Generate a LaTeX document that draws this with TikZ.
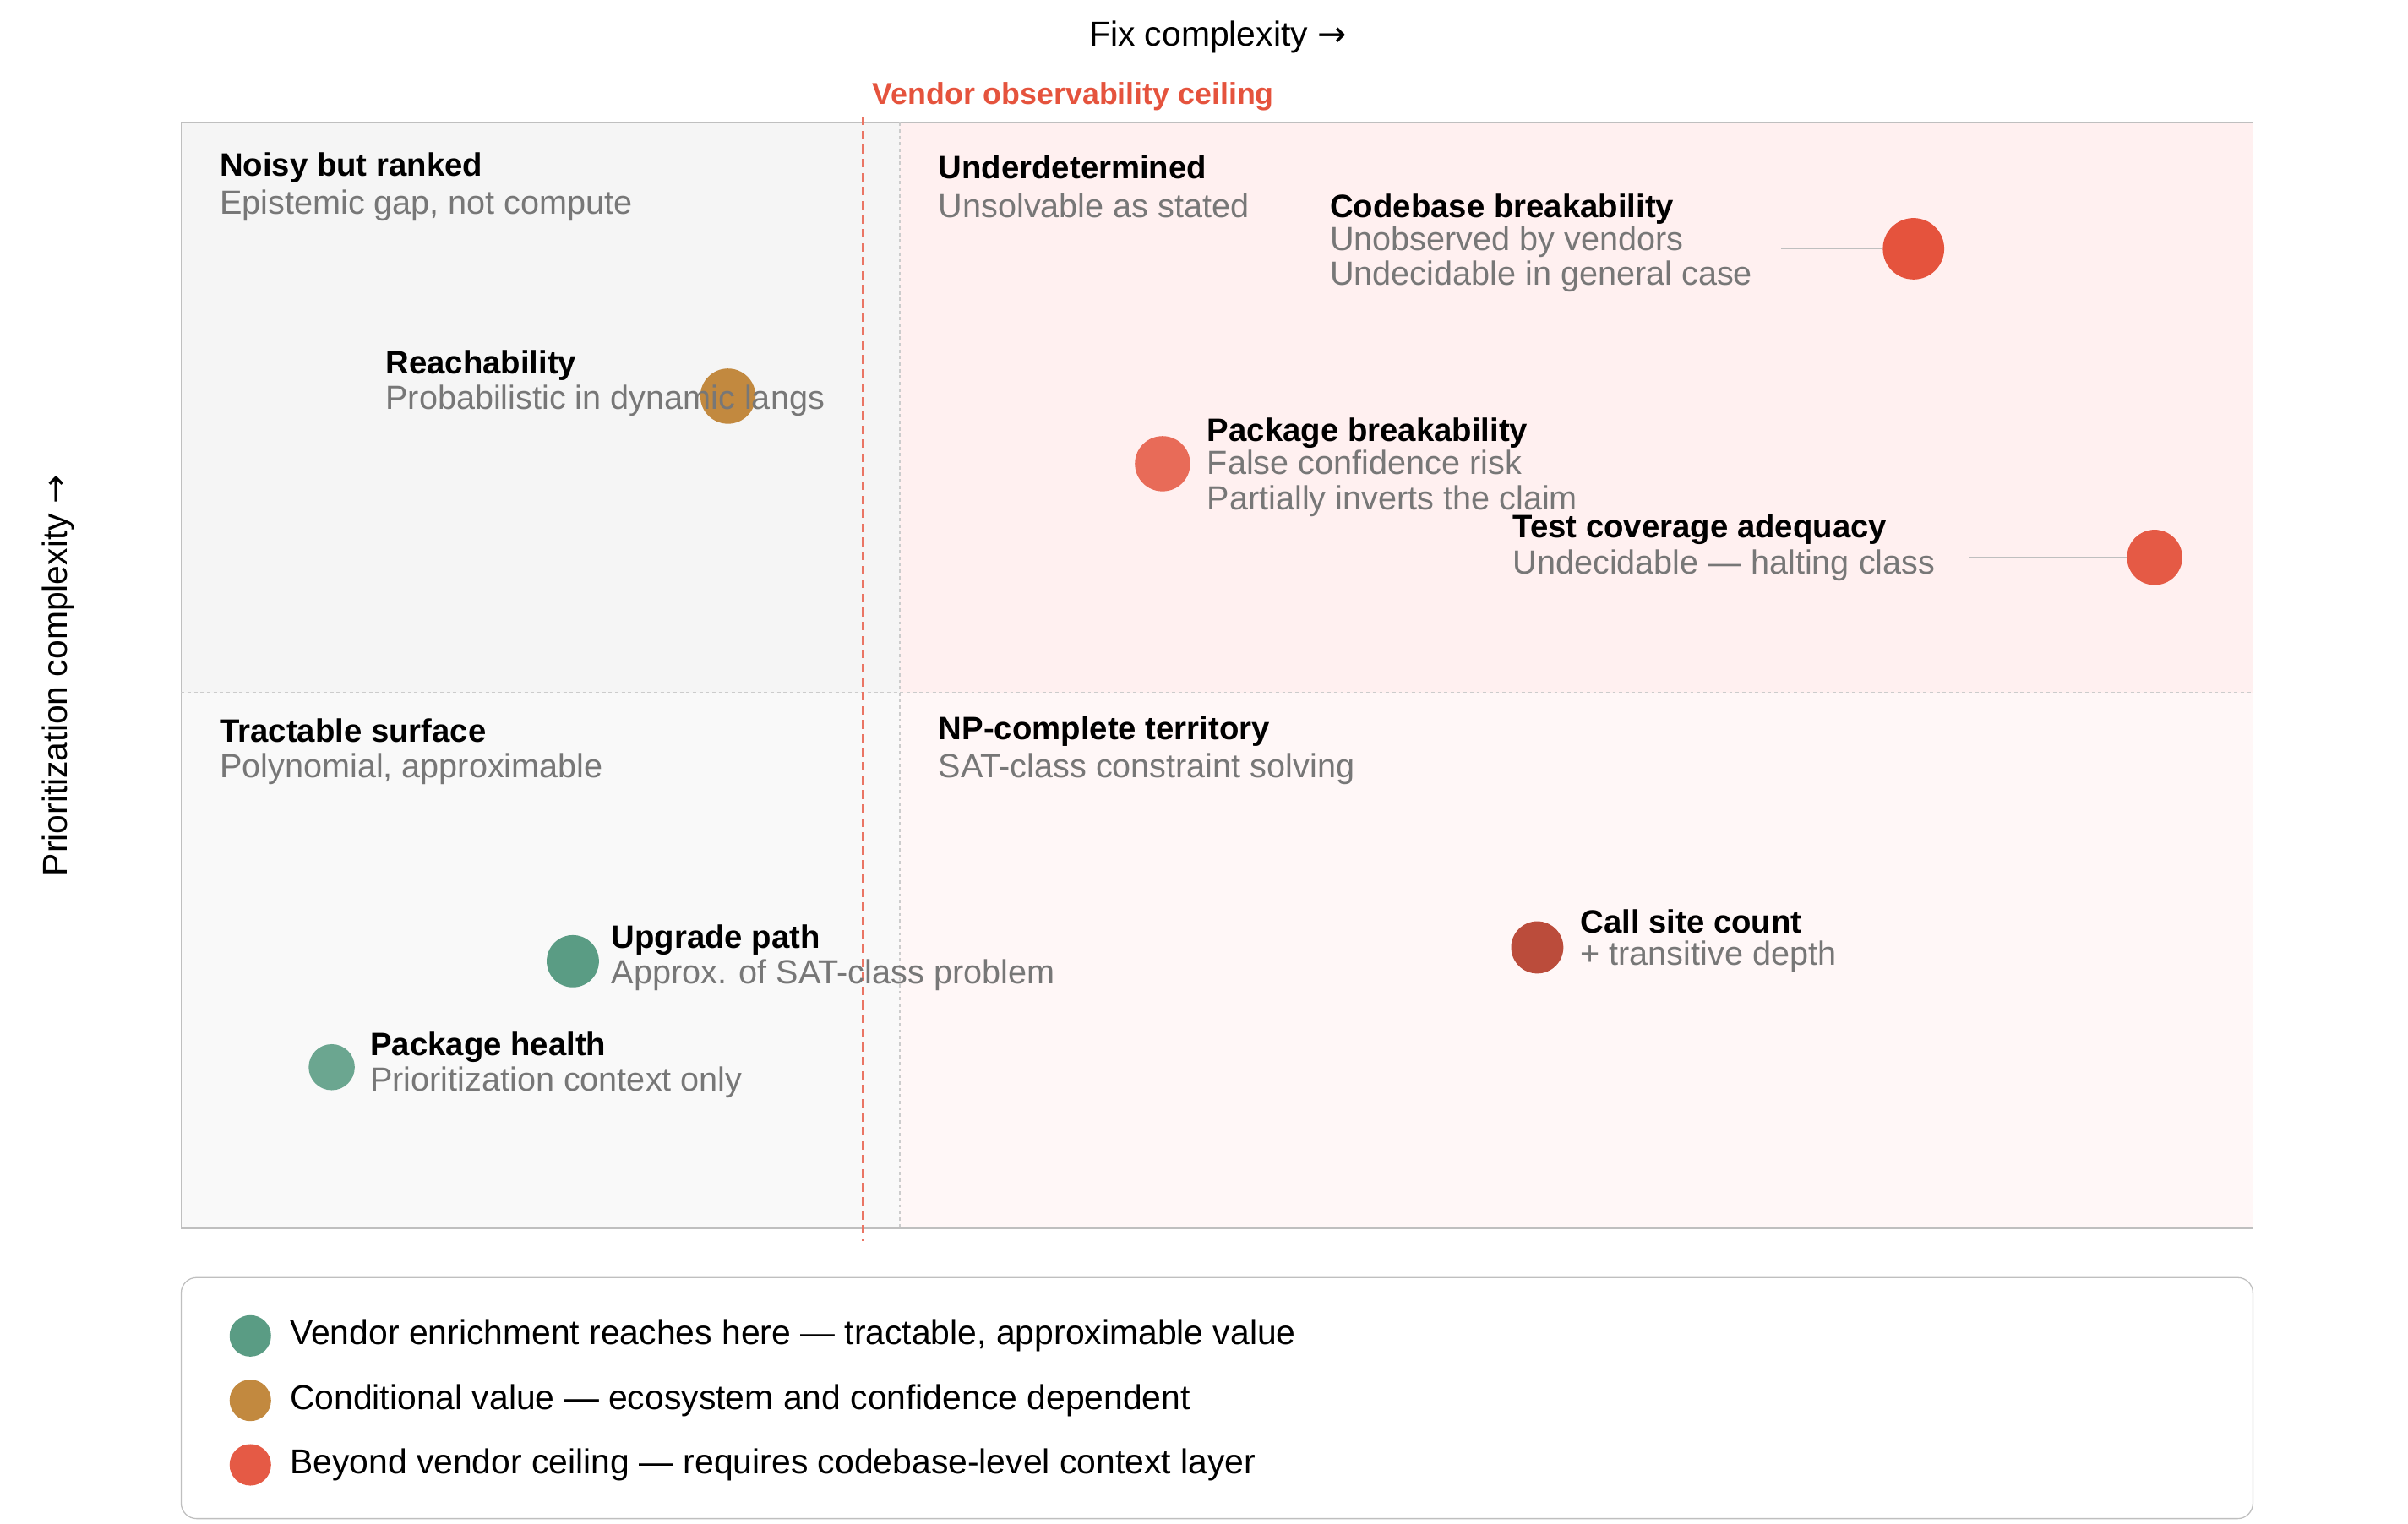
\documentclass[tikz,border=0pt]{standalone}
\usepackage{fontspec}
\setmainfont{Liberation Sans}
\newfontfamily\arrowfont{DejaVu Sans}
\usetikzlibrary{positioning}
\definecolor{ceil}{HTML}{E5533D}
\definecolor{txtgray}{HTML}{777777}
\definecolor{cgreen}{HTML}{5A9C84}
\definecolor{camber}{HTML}{C2893F}
\definecolor{cred}{HTML}{E55A45}
\tikzset{
    head/.style={anchor=west, inner sep=0pt, font=\fontsize{30}{33}\selectfont\bfseries},
    sub/.style={anchor=west, inner sep=0pt, text=txtgray, align=left, font=\fontsize{31}{32.5}\selectfont},
    dot/.style={circle, inner sep=0pt, minimum size=#1*0.05cm},
    leader/.style={draw=black!25, line width=1.2pt},
    legtext/.style={anchor=west, inner sep=0pt, font=\fontsize{32}{34}\selectfont}
}
\begin{document}
\begin{tikzpicture}[x=0.05cm, y=-0.05cm]
    \useasboundingbox (0,0) rectangle (1568,992);
    % quadrants
    \fill[black!4] (118,80) rectangle (586,451);
    \fill[red!6!white] (586,80) rectangle (1467,451);
    \fill[black!2.5] (118,451) rectangle (586,800);
    \fill[red!3!white] (586,451) rectangle (1467,800);
    \draw[black!25, line width=1pt] (118,80) rectangle (1467,800);
    \draw[black!20, dashed, line width=1pt] (118,451) -- (1467,451);
    \draw[black!20, dashed, line width=1pt] (586,80) -- (586,800);
    \draw[ceil!80, line width=2pt, dash pattern=on 8pt off 5pt] (562,76) -- (562,808);
    % axes
    \node[inner sep=0pt, font=\fontsize{32}{34}\selectfont] (xaxis) at (793,24) {Fix complexity {\arrowfont →}};
    \node[inner sep=0pt, rotate=90, font=\fontsize{32}{34}\selectfont] (yaxis) at (38,440) {Prioritization complexity {\arrowfont →}};
    \node[anchor=west, inner sep=0pt, text=ceil, font=\fontsize{28}{30}\selectfont\bfseries] (ceiling) at (568,63) {Vendor observability ceiling};
    % quadrant titles
    \node[head] (q1) at (143,109) {Noisy but ranked};
    \node[sub] (q1s) at (143,134) {Epistemic gap, not compute};
    \node[head] (q2) at (611,109) {Underdetermined};
    \node[sub] (q2s) at (611,134) {Unsolvable as stated};
    \node[head] (q3) at (143,476) {Tractable surface};
    \node[sub] (q3s) at (143,501) {Polynomial, approximable};
    \node[head] (q4) at (611,476) {NP-complete territory};
    \node[sub] (q4s) at (611,501) {SAT-class constraint solving};
    % points
    \node[dot=36, fill=camber] (reach) at (474,258) {};
    \node[head] (reachT) at (251,238) {Reachability};
    \node[sub] (reachS) at (251,261) {Probabilistic in dynamic langs};
    \node[dot=40, fill=ceil] (cbb) at (1246,162) {};
    \node[head] (cbbT) at (866,136) {Codebase breakability};
    \node[sub, anchor=north west] (cbbS) at (866,147) {Unobserved by vendors\\Undecidable in general case};
    \coordinate (cbbL) at (1160,162);
    \draw[leader] (cbbL) -- (cbb);
    \node[dot=36, fill=cred!90] (pkb) at (757,302) {};
    \node[head] (pkbT) at (786,282) {Package breakability};
    \node[sub, anchor=north west] (pkbS) at (786,293) {False confidence risk\\Partially inverts the claim};
    \node[dot=36, fill=cred] (tca) at (1403,363) {};
    \node[head] (tcaT) at (985,345) {Test coverage adequacy};
    \node[sub] (tcaS) at (985,368) {Undecidable — halting class};
    \coordinate (tcaL) at (1282,363);
    \draw[leader] (tcaL) -- (tca);
    \node[dot=34, fill=ceil!80!black!95] (csc) at (1001,617) {};
    \node[head] (cscT) at (1029,600) {Call site count};
    \node[sub] (cscS) at (1029,623) {+ transitive depth};
    \node[dot=34, fill=cgreen] (upg) at (373,626) {};
    \node[head] (upgT) at (398,612) {Upgrade path};
    \node[sub] (upgS) at (398,635) {Approx. of SAT-class problem};
    \node[dot=30, fill=cgreen!90] (phl) at (216,695) {};
    \node[head] (phlT) at (241,682) {Package health};
    \node[sub] (phlS) at (241,705) {Prioritization context only};
    % legend
    \draw[black!25, line width=1pt, rounded corners=0.5cm, fill=white] (118,832) rectangle (1467,989);
    \foreach \y/\c/\t [count=\i] in {870/cgreen/{Vendor enrichment reaches here — tractable, approximable value},
        912/camber/{Conditional value — ecosystem and confidence dependent},
        954/cred/{Beyond vendor ceiling — requires codebase-level context layer}}{
        \node[dot=27, fill=\c] (leg\i) at (163,\y) {};
        \node[legtext, right=12 of leg\i] (legT\i) {\t};
    }
\end{tikzpicture}
\end{document}
